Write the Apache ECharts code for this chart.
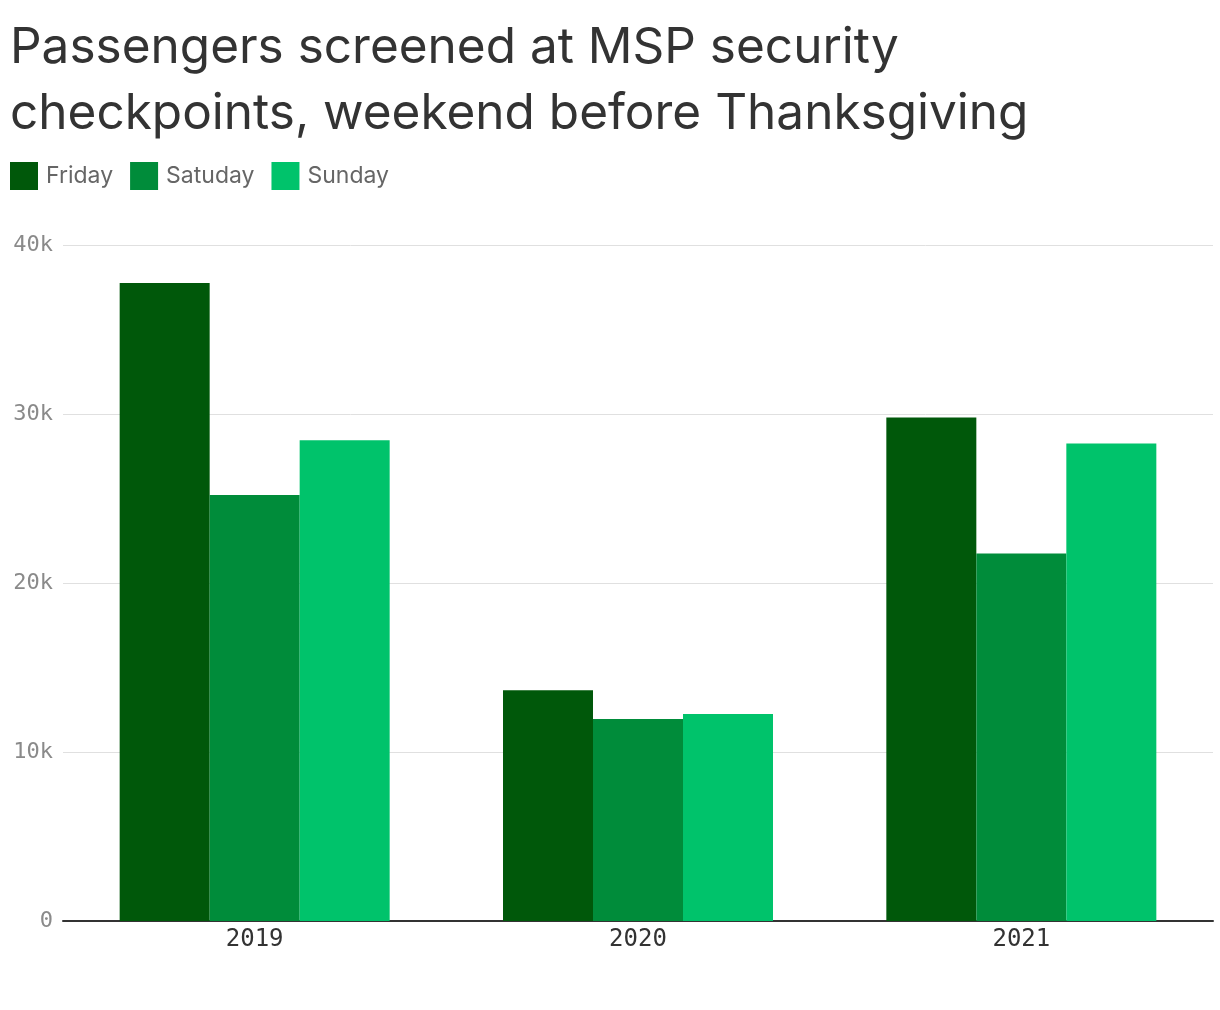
<!DOCTYPE html>
<html>
<head>
<meta charset="utf-8">
<script src="https://cdn.jsdelivr.net/npm/echarts@6/dist/echarts.min.js"></script>
<style>
  html, body { margin: 0; padding: 0; background: #fff; }
  #main { width: 1220px; height: 1010px; }
</style>
</head>
<body>
<div id="main"></div>
<script>
var years = ['2019', '2020', '2021'];
var friday = [37750, 13650, 29800];
var saturday = [25200, 11950, 21750];
var sunday = [28450, 12250, 28250];

var colors = ['#00580a', '#008c3a', '#00c36b'];

var chart = echarts.init(document.getElementById('main'));

var option = {
	backgroundColor: '#fff',
	animation: false,
	title: {
		text: 'Passengers screened at MSP security\ncheckpoints, weekend before Thanksgiving',
		left: 5,
		top: 10,
		textStyle: {
			fontFamily: 'Inter',
			fontSize: 49.5,
			fontWeight: 'normal',
			color: '#333',
			lineHeight: 66
		}
	},
	legend: {
		left: 5,
		top: 157,
		itemWidth: 28,
		itemHeight: 28,
		itemGap: 17,
		icon: 'rect',
		textStyle: {
			fontFamily: 'Inter',
			fontSize: 23,
			color: '#666',
			padding: [0, 0, 0, 3]
		},
		data: ['Friday', 'Satuday', 'Sunday']
	},
	grid: {
		left: 63,
		right: 7,
		top: 245,
		bottom: 89,
		containLabel: false
	},
	xAxis: {
		type: 'category',
		data: years,
		axisLine: { lineStyle: { color: '#333', width: 2 } },
		axisTick: { show: false },
		axisLabel: {
			fontFamily: 'DejaVu Sans Mono',
			fontSize: 24,
			color: '#333',
			margin: 7
		}
	},
	yAxis: {
		type: 'value',
		min: 0,
		max: 40000,
		interval: 10000,
		axisLine: { show: false },
		axisTick: { show: false },
		splitLine: { lineStyle: { color: '#e0e0e0', width: 1 } },
		axisLabel: {
			fontFamily: 'DejaVu Sans Mono',
			fontSize: 22,
			color: '#8a8a8a',
			margin: 10,
			formatter: function(v) {
				return v === 0 ? '0' : (v / 1000) + 'k';
			}
		}
	},
	series: [{
		name: 'Friday',
		type: 'bar',
		data: friday,
		barWidth: 90,
		barGap: '0%',
		itemStyle: { color: colors[0] }
	}, {
		name: 'Satuday',
		type: 'bar',
		data: saturday,
		barWidth: 90,
		barGap: '0%',
		itemStyle: { color: colors[1] }
	}, {
		name: 'Sunday',
		type: 'bar',
		data: sunday,
		barWidth: 90,
		barGap: '0%',
		itemStyle: { color: colors[2] }
	}]
};
chart.setOption(option);
</script>
</body>
</html>
